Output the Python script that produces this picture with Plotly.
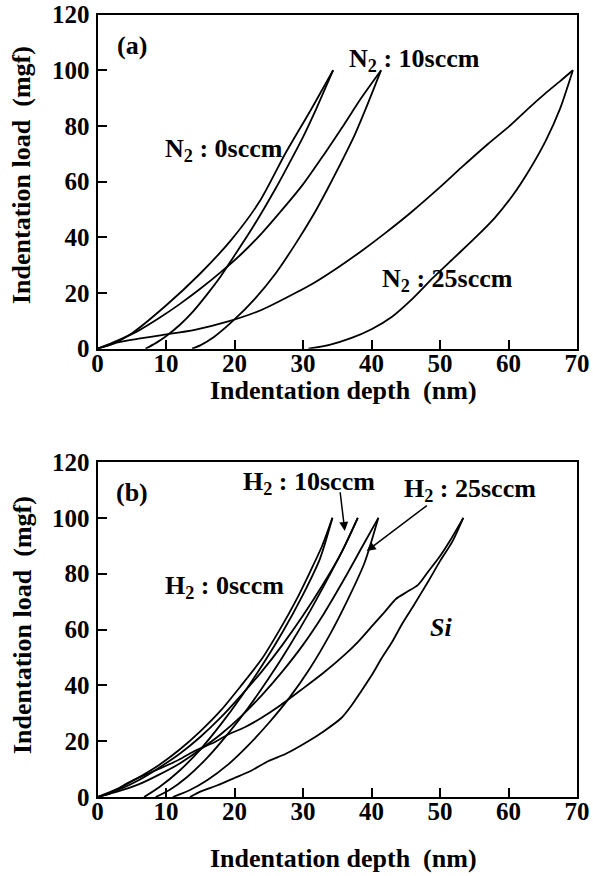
import plotly.graph_objects as go

# ---------------- data ----------------
# Panel (a): N2 flow
N0_load_x = [0, 2, 5, 10, 15, 19.5, 23.7, 27.4, 31.2, 34.4]
N0_load_y = [0, 1.5, 5.5, 15.5, 27, 39, 53, 70, 86, 100]
N0_unload_x = [34.4, 32, 30, 28.3, 26, 24, 22, 20, 18, 16, 14, 12, 10, 8.5, 7]
N0_unload_y = [100, 86.5, 76, 68, 57.5, 49, 41, 33.5, 26, 19.5, 13.5, 8.5, 4.5, 2, 0]

N10_load_x = [0, 3, 6, 9, 12, 15, 18, 21, 24, 27, 30, 33, 36, 38.5, 41.4]
N10_load_y = [0, 3, 6.5, 11, 16, 21.5, 27.5, 34, 41.5, 50, 59, 69.5, 80.5, 90, 100]
N10_unload_x = [41.4, 39.3, 37.5, 35.5, 33.5, 31.5, 29, 26, 23, 20, 17, 15, 13.8]
N10_unload_y = [100, 87, 76.5, 66.5, 57, 48, 38, 27, 18, 10.5, 4.2, 1.2, 0]

N25_load_x = [0, 1.5, 3, 6, 9.4, 14.2, 19.1, 24, 28.8, 31.7, 35, 38.5, 42, 45.8, 50,
              53.1, 57, 60.4, 63, 65.3, 67.5, 69.4]
N25_load_y = [0, 1.2, 2.3, 3.6, 4.9, 6.8, 9.8, 14, 19.9, 23.8, 29, 35, 41.5, 49, 58,
              65, 73.5, 80.5, 86.5, 91.5, 96, 100]
N25_unload_x = [69.4, 67.5, 65.5, 63, 60.6, 58, 55, 52, 49, 46, 43, 40, 37, 34, 30.8]
N25_unload_y = [100, 86, 75, 64, 55, 47, 39.5, 32.5, 25.5, 18, 11.5, 7, 3.8, 1.5, 0]

# Panel (b): H2 flow and Si
H0_load_x = [0, 3, 6, 9, 12, 15, 18, 21, 24, 26.5, 29, 31, 32.8, 34.3]
H0_load_y = [0, 3, 7, 11.5, 17, 23.5, 31, 40, 49.5, 59.5, 70.5, 80.5, 90, 100]
H0_unload_x = [34.3, 32.5, 30, 27, 24, 21, 18, 15, 12, 9, 6.8]
H0_unload_y = [100, 85.5, 72.5, 59, 47, 36, 26, 17, 9.5, 3.5, 0]

H10_load_x = [0, 3, 6, 9, 12, 15, 18, 21, 24, 27, 30, 33, 35.5, 38]
H10_load_y = [0, 2.5, 6, 10.5, 15.5, 21.5, 28.5, 36.5, 45, 54.5, 65, 76.5, 87, 100]
H10_unload_x = [38, 36, 34, 31, 28, 25, 22, 19, 16, 13, 10.5, 8.5]
H10_unload_y = [100, 89.5, 80, 66.5, 54, 42.5, 32, 22.5, 14, 7, 2.5, 0]

H25_load_x = [0, 3, 6, 9, 12, 15, 18, 21, 24, 27, 30, 33, 36, 38.5, 41]
H25_load_y = [0, 2, 4.5, 8, 12, 17, 22.5, 29, 36.5, 45, 54.5, 65.5, 78, 89, 100]
H25_unload_x = [41, 39, 36.5, 34, 31, 28, 25, 22, 19, 16, 13.5, 11]
H25_unload_y = [100, 84, 70.5, 58.5, 46, 35.5, 26.5, 18.5, 11.5, 6, 2.5, 0]

Si_load_x = [0, 2, 4.4, 7, 9.3, 12, 14.1, 17, 19, 21.5, 23.9, 26.5, 29.8, 33, 36.1, 38, 40,
             42, 43.6, 45.2, 46.8, 48.2, 49.8, 51.5, 53.4]
Si_load_y = [0, 1.5, 5, 8, 10.4, 13.5, 16.4, 19.5, 22.3, 25, 28.3, 32.5, 38.5, 44.5, 51, 55.5, 61,
             66.5, 71, 73.5, 76, 80.5, 85.6, 92, 100]
Si_unload_x = [53.4, 51.8, 50, 48.3, 46, 44.4, 43, 41.5, 40, 38.5, 37, 35.6, 33, 30.7, 27.5,
               24.9, 22.5, 20, 17.5, 15.1, 13.5]
Si_unload_y = [100, 91.5, 84.5, 77.3, 68, 61.7, 55.5, 49.8, 43.5, 37.9, 32.5, 28.3, 23.5, 19.9, 15.5,
               12.8, 9.5, 6.8, 4.2, 2, 0]

x_ticks = [0, 10, 20, 30, 40, 50, 60, 70]
y_ticks = [0, 20, 40, 60, 80, 100, 120]

# ---------------- figure ----------------
W, H = 593, 876
FONT = "Liberation Serif, Times New Roman, serif"

fig = go.Figure()

panel_a = [(N0_load_x, N0_load_y), (N0_unload_x, N0_unload_y),
           (N10_load_x, N10_load_y), (N10_unload_x, N10_unload_y),
           (N25_load_x, N25_load_y), (N25_unload_x, N25_unload_y)]
panel_b = [(H0_load_x, H0_load_y), (H0_unload_x, H0_unload_y),
           (H10_load_x, H10_load_y), (H10_unload_x, H10_unload_y),
           (H25_load_x, H25_load_y), (H25_unload_x, H25_unload_y),
           (Si_load_x, Si_load_y), (Si_unload_x, Si_unload_y)]

LINE = dict(color="black", width=1.8, shape="spline", smoothing=0.7)
for xs, ys in panel_a:
    fig.add_trace(go.Scatter(x=xs, y=ys, mode="lines", xaxis="x", yaxis="y",
                             line=LINE, showlegend=False, hoverinfo="skip"))
for xs, ys in panel_b:
    fig.add_trace(go.Scatter(x=xs, y=ys, mode="lines", xaxis="x2", yaxis="y2",
                             line=LINE, showlegend=False, hoverinfo="skip"))

xdom = [97.5 / W, 577 / W]
ydom_a = [1 - 348.7 / H, 1 - 14.5 / H]
ydom_b = [1 - 797 / H, 1 - 462 / H]

tickfont = dict(family=FONT, size=25, color="black", weight="bold")

def xaxis(anchor, dom):
    return dict(domain=dom, anchor=anchor, range=[0, 70], tickvals=x_ticks,
                ticks="inside", ticklen=9, tickwidth=2, tickcolor="black",
                showline=True, linewidth=2, linecolor="black", mirror=True,
                showgrid=False, zeroline=False, tickfont=tickfont,
                automargin=False, ticklabelstandoff=-9)

def yaxis(anchor, dom):
    return dict(domain=dom, anchor=anchor, range=[0, 120], tickvals=y_ticks,
                ticks="inside", ticklen=9, tickwidth=2, tickcolor="black",
                showline=True, linewidth=2, linecolor="black", mirror=True,
                showgrid=False, zeroline=False, tickfont=tickfont,
                automargin=False, ticklabelstandoff=1)

fig.update_layout(
    width=W, height=H, margin=dict(l=0, r=0, t=0, b=0, autoexpand=False),
    paper_bgcolor="white", plot_bgcolor="white",
    xaxis=xaxis("y", xdom), yaxis=yaxis("x", ydom_a),
    xaxis2=xaxis("y2", xdom), yaxis2=yaxis("x2", ydom_b),
)

# axis titles (placed as paper annotations)
tfont = dict(family=FONT, size=26, color="black", weight="bold")
xtitle = "Indentation depth\u00a0\u00a0(nm)"
ytitle = "Indentation load\u00a0\u00a0(mgf)"
for px, py in [(343, 390), (343, 858)]:
    fig.add_annotation(xref="paper", yref="paper", x=px / W, y=1 - py / H, text=xtitle,
                       showarrow=False, xanchor="center", yanchor="middle", font=tfont)
for px, py in [(22, 175), (22, 625)]:
    fig.add_annotation(xref="paper", yref="paper", x=px / W, y=1 - py / H, text=ytitle,
                       textangle=-90, showarrow=False, xanchor="center", yanchor="middle",
                       font=tfont)

afont = dict(family=FONT, size=26, color="black", weight="bold")
ann = [
    ("x", "y", 2.6, 109, "(a)"),
    ("x", "y", 9.6, 71.3, "N<sub>2</sub> : 0sccm"),
    ("x", "y", 36.4, 103.7, "N<sub>2</sub> : 10sccm"),
    ("x", "y", 41.2, 24.6, "N<sub>2</sub> : 25sccm"),
    ("x2", "y2", 2.4, 109, "(b)"),
    ("x2", "y2", 9.5, 75.3, "H<sub>2</sub> : 0sccm"),
    ("x2", "y2", 21.0, 112.5, "H<sub>2</sub> : 10sccm"),
    ("x2", "y2", 44.4, 110.1, "H<sub>2</sub> : 25sccm"),
    ("x2", "y2", 48.3, 60.6, "<i>Si</i>"),
]
for xr, yr, x, y, t in ann:
    fig.add_annotation(xref=xr, yref=yr, x=x, y=y, text=t, showarrow=False,
                       xanchor="left", yanchor="middle", font=afont)

# arrows in panel (b)
arrows = [((35.4, 109.7), (36.1, 95.3)), ((48.3, 104.8), (39.3, 88.1))]
for (tx, ty), (hx, hy) in arrows:
    fig.add_annotation(xref="x2", yref="y2", x=hx, y=hy, ax=tx, ay=ty,
                       axref="x2", ayref="y2", text="", showarrow=True,
                       arrowhead=2, arrowsize=1.2, arrowwidth=1.5, arrowcolor="black")

fig.write_html("out.html")
